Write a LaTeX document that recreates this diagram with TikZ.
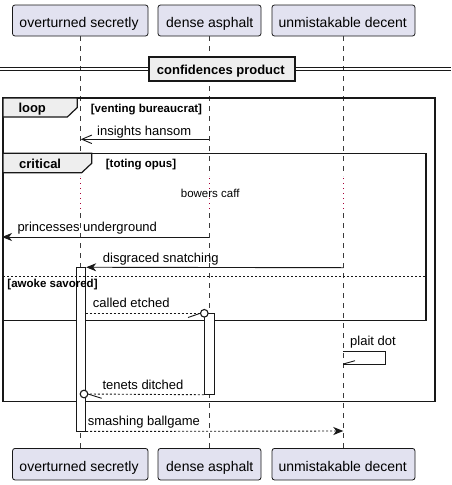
\documentclass[tikz,border=0pt]{standalone}
\usepackage{fontspec}
\setmainfont{Liberation Sans}
\usetikzlibrary{arrows.meta}
\definecolor{partfill}{HTML}{E2E2F0}
\definecolor{lineblk}{HTML}{181818}
\definecolor{framefill}{HTML}{EEEEEE}
\definecolor{delaycol}{HTML}{A80036}
\begin{document}
\begin{tikzpicture}[x=1pt,y=-1pt,
  partbox/.style={draw=lineblk, fill=partfill, rounded corners=2.5pt, line width=0.8pt, inner sep=0pt},
  ptext/.style={anchor=base west, inner sep=0pt, font=\fontsize{14}{16}\selectfont},
  mtext/.style={anchor=base west, inner sep=0pt, font=\fontsize{13}{15}\selectfont},
  btext/.style={anchor=base west, inner sep=0pt, font=\fontsize{13}{15}\selectfont\bfseries},
  gtext/.style={anchor=base west, inner sep=0pt, font=\fontsize{11.5}{13}\selectfont\bfseries},
  dtext/.style={anchor=base west, inner sep=0pt, font=\fontsize{11.5}{13}\selectfont},
  lifeline/.style={draw=lineblk!85, line width=0.6pt, dash pattern=on 5pt off 5pt},
  delayline/.style={draw=delaycol, line width=1pt, dash pattern=on 1pt off 4pt},
  frameline/.style={draw=lineblk, line width=1.5pt},
  tabshape/.style={draw=lineblk, fill=framefill, line width=1.2pt},
  actbox/.style={draw=lineblk, fill=white, line width=0.9pt},
  msg/.style={draw=lineblk, line width=0.9pt},
  dmsg/.style={draw=lineblk, line width=0.9pt, dash pattern=on 2pt off 2pt},
  filledtip/.style={-{Stealth[length=10pt,width=8pt,inset=3pt]}},
  opentip/.style={-{Straight Barb[length=10pt,width=8.5pt]}},
]
\useasboundingbox (0,0) rectangle (451,485);
\fill[white] (0,0) rectangle (451,485);

% lifelines
\coordinate (l1t) at (80.7,36);  \coordinate (l1b) at (80.7,448.3);
\coordinate (l2t) at (209.3,36); \coordinate (l2b) at (209.3,448.3);
\coordinate (l3t) at (343.3,36); \coordinate (l3b) at (343.3,448.3);
\foreach \x in {80.7,209.3,343.3}{
  \draw[lifeline] (\x,36) -- (\x,176);
  \draw[delayline] (\x,178) -- (\x,210);
  \draw[lifeline] (\x,213) -- (\x,448.3);
}

% participants top
\node[partbox, minimum width=135.5pt, minimum height=31pt] (p1t) at (80.25,20.5) {};
\node[partbox, minimum width=103pt, minimum height=31pt] (p2t) at (209.5,20.5) {};
\node[partbox, minimum width=143pt, minimum height=31pt] (p3t) at (343.5,20.5) {};
\node[ptext] (p1tl) at (19.3,27.5) {overturned secretly};
\node[ptext] (p2tl) at (166,27.5) {dense asphalt};
\node[ptext] (p3tl) at (278.3,27.5) {unmistakable decent};
% participants bottom
\node[partbox, minimum width=135.5pt, minimum height=31.5pt] (p1b) at (80.25,464.2) {};
\node[partbox, minimum width=103pt, minimum height=31.5pt] (p2b) at (209.5,464.2) {};
\node[partbox, minimum width=143pt, minimum height=31.5pt] (p3b) at (343.5,464.2) {};
\node[ptext] (p1bl) at (19.3,471) {overturned secretly};
\node[ptext] (p2bl) at (166,471) {dense asphalt};
\node[ptext] (p3bl) at (278.3,471) {unmistakable decent};

% divider
\draw[lineblk, line width=1pt] (0,67) -- (451,67);
\draw[lineblk, line width=1pt] (0,70.7) -- (451,70.7);
\node[draw=lineblk, fill=framefill, line width=1.5pt, minimum width=146pt, minimum height=24pt, inner sep=0pt] (div) at (222,69) {};
\node[btext] (divl) at (156.7,74.3) {confidences product};

% loop frame
\draw[frameline] (3,98) rectangle (435,401.7);
\draw[tabshape] (3,98) -- (77.3,98) -- (77.3,107.5) -- (67.3,117) -- (3,117) -- cycle;
\node[btext] (loopl) at (18.3,112.5) {loop};
\node[gtext] (loopg) at (90.7,112) {[venting bureaucrat]};

% message: insights hansom
\coordinate (m1s) at (209.3,139.3); \coordinate (m1e) at (80.7,139.3);
\draw[msg, opentip] (m1s) -- (m1e);
\node[mtext] (m1l) at (97,135) {insights hansom};

% critical frame
\draw[frameline] (3,153.3) rectangle (426,320.7);
\draw[tabshape] (3,153.3) -- (91.7,153.3) -- (91.7,163.3) -- (81.7,172.7) -- (3,172.7) -- cycle;
\node[btext] (critl) at (19,168.3) {critical};
\node[gtext] (critg) at (105.7,167) {[toting opus]};

% delay
\node[dtext] (delay) at (180.7,197.7) {bowers caff};

% princesses underground
\coordinate (m2s) at (209.3,237); \coordinate (m2e) at (2,237);
\draw[msg, filledtip] (m2s) -- (m2e);
\node[mtext] (m2l) at (17.3,231.7) {princesses underground};

% activation boxes
\node[actbox, minimum width=9.7pt, minimum height=163.3pt, inner sep=0pt] (a1) at (80.85,349.35) {};
\node[actbox, minimum width=10pt, minimum height=81pt, inner sep=0pt] (a2) at (209.3,353.8) {};

% disgraced snatching
\coordinate (m3s) at (343.3,267.7);
\draw[msg, filledtip] (m3s) -- (a1.north east);
\node[mtext] (m3l) at (102.7,262.5) {disgraced snatching};

% else separator
\draw[lineblk, line width=0.8pt, dash pattern=on 2pt off 2pt] (3,276) -- (426,276);
\node[gtext] (elseg) at (7.3,287.5) {[awoke savored]};

% called etched
\coordinate (m4s) at (85.7,313.3);
\coordinate (c4) at (204.3,313.3);
\draw[dmsg] (m4s) -- (200.3,313.3);
\draw[msg] (188,317.5) -- (200.3,313.3);
\draw[lineblk, line width=1.1pt, fill=white] (c4) circle (3.8pt);
\node[mtext] (m4l) at (92.7,307.8) {called etched};

% plait dot (self message)
\coordinate (m5s) at (343.3,351.7); \coordinate (m5e) at (343.3,364);
\draw[msg] (m5s) -- (385.7,351.7) -- (385.7,364) -- (m5e);
\draw[msg] (355,360.7) -- (m5e);
\node[mtext] (m5l) at (350,345.5) {plait dot};

% tenets ditched
\coordinate (c6) at (84,394);
\draw[dmsg] (a2.south west) -- (88,394);
\draw[msg] (101.7,398.3) -- (88,394);
\draw[lineblk, line width=1.1pt, fill=white] (c6) circle (3.8pt);
\node[mtext] (m6l) at (102.3,389) {tenets ditched};

% smashing ballgame
\coordinate (m7e) at (343.3,431);
\draw[dmsg, filledtip] (a1.south east) -- (m7e);
\node[mtext] (m7l) at (87.7,425.7) {smashing ballgame};
\end{tikzpicture}
\end{document}
